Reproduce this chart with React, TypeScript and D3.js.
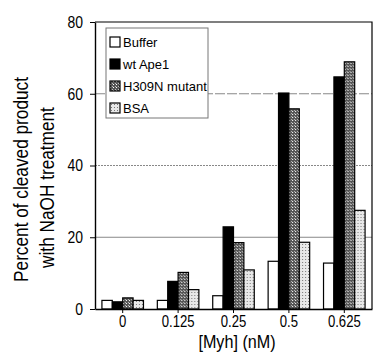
import React, { useRef, useEffect } from "react";
import * as d3 from "d3";

const doses = ["0", "0.125", "0.25", "0.5", "0.625"];
const series = ["Buffer", "wt Ape1", "H309N mutant", "BSA"];
const buffer = [2.4, 2.4, 3.7, 13.3, 12.8];
const wtApe1 = [2.0, 7.7, 22.9, 60.2, 64.7];
const h309n = [3.1, 10.2, 18.5, 55.8, 68.9];
const bsa = [2.4, 5.4, 10.9, 18.6, 27.5];
const yTicks = [0, 20, 40, 60, 80];

const fills = ["#fff", "#000", "url(#hatchDark)", "url(#hatchLight)"];
const FONT = "'Liberation Sans', Arial, sans-serif";

// squeeze text horizontally to mimic a narrow face
const narrow = (sel: any, k = 0.82) => {
  sel.each(function (this: SVGTextElement) {
    const len = this.getComputedTextLength();
    d3.select(this).attr("textLength", len * k).attr("lengthAdjust", "spacingAndGlyphs");
  });
};

const App = () => {
  const svgRef = useRef<SVGSVGElement>(null);

  useEffect(() => {
    const width = 374, height = 354;
    const margin = { top: 22, right: 2, bottom: 45, left: 95 };
    const values = [buffer, wtApe1, h309n, bsa];

    const svg = d3.select(svgRef.current)
      .attr("width", width)
      .attr("height", height)
      .style("background", "#fff");
    svg.selectAll("*").remove();

    const defs = svg.append("defs");
    const dark = defs.append("pattern")
      .attr("id", "hatchDark").attr("width", 3).attr("height", 3)
      .attr("patternUnits", "userSpaceOnUse");
    dark.append("rect").attr("width", 3).attr("height", 3).attr("fill", "#555");
    dark.append("rect").attr("x", 0).attr("y", 0).attr("width", 1).attr("height", 1).attr("fill", "#fff");
    dark.append("rect").attr("x", 2).attr("y", 2).attr("width", 1).attr("height", 1).attr("fill", "#bbb");

    const light = defs.append("pattern")
      .attr("id", "hatchLight").attr("width", 3).attr("height", 3)
      .attr("patternUnits", "userSpaceOnUse");
    light.append("rect").attr("width", 3).attr("height", 3).attr("fill", "#e8e8e8");
    light.append("rect").attr("x", 1).attr("y", 1).attr("width", 1).attr("height", 1).attr("fill", "#777");

    const x0 = d3.scaleBand()
      .domain(doses)
      .range([margin.left, width - margin.right])
      .paddingInner(0.25)
      .paddingOuter(0.125);

    const x1 = d3.scaleBand()
      .domain(series)
      .range([0, x0.bandwidth()]);

    const y = d3.scaleLinear()
      .domain([0, 80])
      .range([height - margin.bottom, margin.top]);

    // Gridlines
    const grid = [
      { v: 20, dash: null },
      { v: 40, dash: "2,1" },
      { v: 60, dash: "10,2" },
    ];
    svg.append("g").selectAll("line")
      .data(grid)
      .enter().append("line")
      .attr("x1", margin.left)
      .attr("x2", width - margin.right)
      .attr("y1", d => y(d.v))
      .attr("y2", d => y(d.v))
      .attr("stroke", "#888")
      .attr("stroke-width", 1)
      .attr("stroke-dasharray", d => d.dash);

    // Frame top and right
    svg.append("path")
      .attr("d", `M${margin.left},${y(80)}H${width - margin.right}V${y(0)}`)
      .attr("fill", "none")
      .attr("stroke", "#000")
      .attr("stroke-width", 1.2);

    // Bars
    const groups = svg.append("g").selectAll("g")
      .data(doses)
      .enter().append("g")
      .attr("transform", d => `translate(${x0(d)},0)`);

    groups.selectAll("rect")
      .data((_, i) => series.map((s, j) => ({ s, j, v: values[j][i] })))
      .enter().append("rect")
      .attr("x", d => x1(d.s)!)
      .attr("y", d => y(d.v))
      .attr("width", x1.bandwidth())
      .attr("height", d => y(0) - y(d.v))
      .attr("fill", d => fills[d.j])
      .attr("stroke", "#000")
      .attr("stroke-width", 1.2);

    // Y-axis
    const yAxis = svg.append("g")
      .attr("transform", `translate(${margin.left},0)`)
      .call(d3.axisLeft(y).tickValues(yTicks).tickSize(5).tickPadding(7).tickSizeOuter(0));
    yAxis.select(".domain").attr("stroke-width", 1.4);
    yAxis.selectAll("text").style("font-size", "17px").style("font-family", FONT);
    narrow(yAxis.selectAll("text"));

    // X-axis
    const xAxis = svg.append("g")
      .attr("transform", `translate(0,${y(0)})`)
      .call(d3.axisBottom(x0).tickSize(4).tickPadding(3).tickSizeOuter(0));
    xAxis.select(".domain").attr("stroke-width", 1.4);
    xAxis.selectAll("text").style("font-size", "16px").style("font-family", FONT);
    narrow(xAxis.selectAll("text"));

    // Axis titles
    const xTitle = svg.append("text")
      .attr("x", 237)
      .attr("y", 348)
      .style("text-anchor", "middle")
      .style("font-size", "19px")
      .style("font-family", FONT)
      .text("[Myh] (nM)");
    narrow(xTitle, 0.85);

    const yTitle = svg.append("g")
      .attr("transform", `translate(0,${(y(0) + y(80)) / 2 + 14}) rotate(-90)`);
    const t1 = yTitle.append("text").attr("x", 0).attr("y", 28)
      .style("text-anchor", "middle").style("font-size", "21px").style("font-family", FONT)
      .text("Percent of cleaved product");
    const t2 = yTitle.append("text").attr("x", -8).attr("y", 54)
      .style("text-anchor", "middle").style("font-size", "21px").style("font-family", FONT)
      .text("with NaOH treatment");
    narrow(t1);
    narrow(t2);

    // Legend
    const lg = svg.append("g").attr("transform", "translate(106,28)");
    lg.append("rect")
      .attr("width", 102)
      .attr("height", 90)
      .attr("fill", "#fff")
      .attr("stroke", "#777")
      .attr("stroke-width", 1);
    const items = lg.selectAll("g.item")
      .data(series)
      .enter().append("g")
      .attr("class", "item")
      .attr("transform", (_, i) => `translate(4,${9 + i * 22})`);
    items.append("rect")
      .attr("width", 10)
      .attr("height", 10)
      .attr("fill", (_, i) => fills[i])
      .attr("stroke", "#000")
      .attr("stroke-width", 1.2);
    items.append("text")
      .attr("x", 13)
      .attr("y", 10)
      .style("font-size", "13px")
      .style("font-family", FONT)
      .text(d => d);
  }, []);

  return (
    <div style={{ position: "absolute", left: 0, top: 0 }}>
      <svg ref={svgRef}></svg>
    </div>
  );
};

export default App;
